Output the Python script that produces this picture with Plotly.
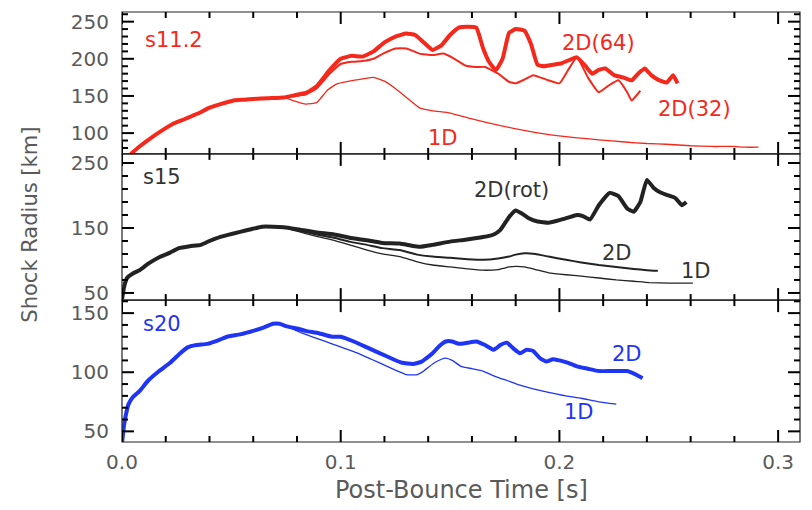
import plotly.graph_objects as go

# ---------------- data ----------------
# s11.2 (top panel)
s11_common_t = [0.004, 0.008, 0.013, 0.018, 0.023, 0.028, 0.032, 0.036, 0.039, 0.045, 0.051, 0.056, 0.060, 0.067, 0.074]
s11_common_r = [72, 82, 93, 103, 112, 118, 123, 128, 133, 139, 144, 145, 146, 147, 148]

s11_1d_t = [0.079, 0.084, 0.089, 0.094, 0.098, 0.104, 0.110, 0.115, 0.120, 0.125, 0.130, 0.136, 0.142, 0.150, 0.160,
            0.173, 0.185, 0.195, 0.207, 0.218, 0.230, 0.240, 0.249, 0.260, 0.270, 0.279, 0.285, 0.291]
s11_1d_r = [143, 139, 141, 158, 166, 170, 173, 175, 170, 160, 148, 134, 130, 127, 119,
            110, 103, 98, 94, 91, 88, 86, 85, 83, 82, 82, 81, 81]

s11_2d32_t = [0.079, 0.084, 0.089, 0.095, 0.100, 0.105, 0.110, 0.115, 0.120, 0.125, 0.130, 0.136, 0.142, 0.147, 0.152,
              0.157, 0.162, 0.166, 0.172, 0.177, 0.180, 0.184, 0.188, 0.194, 0.200, 0.204, 0.208, 0.213, 0.218, 0.222,
              0.227, 0.231, 0.233, 0.237]
s11_2d32_r = [150, 152, 160, 180, 193, 196, 197, 200, 208, 214, 214, 207, 205, 207, 200,
              191, 189, 189, 180, 169, 167, 172, 178, 172, 167, 185, 202, 175, 155, 163,
              171, 155, 144, 157]

s11_2d64_t = [0.079, 0.084, 0.089, 0.095, 0.100, 0.105, 0.110, 0.115, 0.120, 0.125, 0.130, 0.134, 0.138, 0.142, 0.146,
              0.150, 0.154, 0.158, 0.162, 0.165, 0.168, 0.171, 0.174, 0.177, 0.180, 0.184, 0.187, 0.190, 0.193, 0.197,
              0.201, 0.205, 0.208, 0.212, 0.215, 0.218, 0.221, 0.225, 0.229, 0.233, 0.236, 0.239, 0.242, 0.245, 0.249,
              0.252, 0.254]
s11_2d64_r = [151, 154, 163, 185, 200, 204, 203, 210, 222, 230, 234, 232, 222, 212, 218,
              232, 242, 243, 242, 215, 195, 185, 200, 235, 240, 238, 220, 192, 190, 192,
              194, 199, 202, 190, 180, 185, 187, 178, 175, 171, 180, 187, 178, 172, 168,
              178, 167]

# s15 (middle panel)
s15_common_t = [0.0, 0.001, 0.0023, 0.005, 0.008, 0.012, 0.017, 0.022, 0.026, 0.031, 0.036, 0.040, 0.043, 0.048,
                0.054, 0.059, 0.064, 0.069, 0.074]
s15_common_r = [40, 60, 73, 80, 85, 95, 105, 112, 119, 122, 124, 130, 134, 139, 144, 148, 152, 152, 151]

s15_rot_t = [0.080, 0.089, 0.097, 0.104, 0.112, 0.119, 0.127, 0.132, 0.136, 0.142, 0.150, 0.157, 0.165, 0.170, 0.173,
             0.177, 0.180, 0.183, 0.186, 0.190, 0.195, 0.200, 0.204, 0.208, 0.211, 0.214, 0.218, 0.223, 0.227, 0.231,
             0.234, 0.237, 0.240, 0.243, 0.246, 0.249, 0.253, 0.256, 0.258]
s15_rot_r = [148, 143, 140, 135, 131, 127, 126, 123, 121, 124, 129, 132, 136, 140, 147,
             167, 177, 172, 165, 160, 158, 162, 166, 170, 168, 163, 185, 204, 199, 180,
             175, 190, 224, 212, 205, 201, 196, 185, 190]

s15_2d_t = [0.080, 0.089, 0.097, 0.104, 0.112, 0.119, 0.127, 0.135, 0.142, 0.150, 0.158, 0.165, 0.172, 0.177, 0.180,
            0.184, 0.189, 0.195, 0.203, 0.210, 0.218, 0.226, 0.234, 0.240, 0.245]
s15_2d_r = [147, 140, 135, 129, 124, 119, 116, 109, 106, 104, 102, 101, 103, 106, 109,
            111, 110, 106, 101, 97, 93, 90, 87, 85, 84]

s15_1d_t = [0.080, 0.089, 0.097, 0.104, 0.112, 0.119, 0.127, 0.135, 0.142, 0.150, 0.158, 0.165, 0.172, 0.177, 0.180,
            0.184, 0.189, 0.195, 0.203, 0.210, 0.218, 0.226, 0.234, 0.241, 0.250, 0.261]
s15_1d_r = [145, 137, 131, 124, 116, 110, 106, 98, 93, 90, 87, 85, 86, 90, 91,
            90, 86, 81, 78, 76, 73, 70, 68, 66, 65, 65]

# s20 (bottom panel)
s20_common_t = [0.0, 0.001, 0.002, 0.003, 0.005, 0.008, 0.012, 0.017, 0.022, 0.026, 0.030, 0.034, 0.039, 0.044,
                0.048, 0.054, 0.060, 0.065, 0.069, 0.072, 0.075]
s20_common_r = [40, 56, 66, 73, 79, 84, 93, 101, 108, 115, 121, 123, 124, 127, 130, 132, 135, 138, 141, 141, 139]

s20_2d_t = [0.080, 0.084, 0.090, 0.096, 0.100, 0.106, 0.112, 0.118, 0.124, 0.128, 0.133, 0.137, 0.142, 0.145, 0.148,
            0.151, 0.154, 0.158, 0.162, 0.166, 0.170, 0.173, 0.176, 0.179, 0.182, 0.185, 0.188, 0.191, 0.194, 0.197,
            0.200, 0.204, 0.208, 0.213, 0.218, 0.224, 0.231, 0.235, 0.238]
s20_2d_r = [137, 135, 133, 130, 130, 126, 121, 116, 111, 108, 107, 109, 116, 122, 126,
            126, 124, 125, 126, 123, 119, 123, 125, 120, 116, 119, 118, 112, 109, 111,
            110, 108, 105, 103, 101, 101, 101, 98, 95]

s20_1d_t = [0.080, 0.084, 0.090, 0.096, 0.102, 0.108, 0.114, 0.120, 0.126, 0.130, 0.135, 0.138, 0.142, 0.146, 0.148,
            0.151, 0.155, 0.160, 0.165, 0.170, 0.176, 0.182, 0.188, 0.195, 0.203, 0.210, 0.218, 0.226]
s20_1d_r = [135, 132, 128, 124, 120, 116, 111, 106, 101, 98, 98, 101, 107, 111, 112,
            110, 105, 103, 101, 97, 93, 89, 86, 83, 80, 78, 75, 73]

# labels: (text, t, r, panel)
labels = [
    ("s11.2", 0.0237, 225, 1), ("2D(64)", 0.218, 221, 1), ("2D(32)", 0.2616, 133, 1), ("1D", 0.1466, 93, 1),
    ("s15", 0.0183, 228, 2), ("2D(rot)", 0.178, 208, 2), ("2D", 0.2265, 112, 2), ("1D", 0.2626, 84, 2),
    ("s20", 0.0183, 141, 3), ("2D", 0.231, 115, 3), ("1D", 0.209, 66, 3),
]

# tick values
x_major = [0.0, 0.1, 0.2, 0.3]
x_minor = [0.02, 0.04, 0.06, 0.08, 0.12, 0.14, 0.16, 0.18, 0.22, 0.24, 0.26, 0.28]
y_major = {1: [100, 150, 200, 250], 2: [50, 150, 250], 3: [50, 100, 150]}
y_minor = {1: [80, 90, 110, 120, 130, 140, 160, 170, 180, 190, 210, 220, 230, 240, 260],
           2: [70, 90, 110, 130, 170, 190, 210, 230],
           3: [60, 70, 80, 90, 110, 120, 130, 140, 160]}
y_range = {1: [72, 263], 2: [39, 264], 3: [41, 161]}

RED = "#f5281c"
BLACK = "#222222"
BLUE = "#1f35f5"
GRAY = "#5a5a5a"
TICK = "black"
FONT = "DejaVu Sans"

fig = go.Figure()
XR = {1: "x", 2: "x2", 3: "x3"}
YR = {1: "y", 2: "y2", 3: "y3"}

def add(t, r, color, width, panel):
    fig.add_trace(go.Scatter(x=t, y=r, mode="lines", line=dict(color=color, width=width, shape="spline", smoothing=0.4),
                             xaxis=XR[panel], yaxis=YR[panel], showlegend=False, hoverinfo="skip"))

# top
add(s11_common_t + s11_1d_t, s11_common_r + s11_1d_r, RED, 1.3, 1)
add(s11_common_t + s11_2d32_t, s11_common_r + s11_2d32_r, RED, 2.0, 1)
add(s11_common_t + s11_2d64_t, s11_common_r + s11_2d64_r, RED, 4.0, 1)
# middle
add(s15_common_t + s15_1d_t, s15_common_r + s15_1d_r, BLACK, 1.3, 2)
add(s15_common_t + s15_2d_t, s15_common_r + s15_2d_r, BLACK, 2.0, 2)
add(s15_common_t + s15_rot_t, s15_common_r + s15_rot_r, BLACK, 4.0, 2)
# bottom
add(s20_common_t + s20_1d_t, s20_common_r + s20_1d_r, BLUE, 1.3, 3)
add(s20_common_t + s20_2d_t, s20_common_r + s20_2d_r, BLUE, 4.0, 3)

colors = {1: RED, 2: "#333333", 3: BLUE}
for text, t, r, p in labels:
    fig.add_annotation(x=t, y=r, xref=XR[p], yref=YR[p],
                       text=text, showarrow=False, font=dict(family=FONT, size=21, color=colors[p]))

d1 = [0.0, 0.330]
d2 = [0.330, 0.670]
d3 = [0.670, 1.0]
domains = {1: d3, 2: d2, 3: d1}
PLOT_W = 678
PLOT_H = 430

# panel frames and inward tick marks (all four sides), built from the tick value lists
shapes = []
for p in (1, 2, 3):
    xd, yd = XR[p] + " domain", YR[p] + " domain"
    shapes.append(dict(type="rect", xref=xd, yref=yd, x0=0, x1=1, y0=0, y1=1,
                       line=dict(color="#222222", width=1.2), layer="above"))
    ph = (domains[p][1] - domains[p][0]) * PLOT_H
    for vals, ln in ((x_major, 12), (x_minor, 6)):
        f = ln / ph
        for v in vals:
            shapes.append(dict(type="line", xref=XR[p], yref=yd, x0=v, x1=v, y0=0, y1=f,
                               line=dict(color=TICK, width=2), layer="above"))
            shapes.append(dict(type="line", xref=XR[p], yref=yd, x0=v, x1=v, y0=1, y1=1 - f,
                               line=dict(color=TICK, width=2), layer="above"))
    for vals, ln in ((y_major[p], 12), (y_minor[p], 6)):
        f = ln / PLOT_W
        for v in vals:
            shapes.append(dict(type="line", xref=xd, yref=YR[p], x0=0, x1=f, y0=v, y1=v,
                               line=dict(color=TICK, width=2), layer="above"))
            shapes.append(dict(type="line", xref=xd, yref=YR[p], x0=1, x1=1 - f, y0=v, y1=v,
                               line=dict(color=TICK, width=2), layer="above"))

xcommon = dict(range=[0, 0.31], showline=False, automargin=False, ticks="", tickmode="array", tickvals=x_major,
               showgrid=False, zeroline=False, tickfont=dict(family=FONT, size=20, color=GRAY))
ycommon = dict(showline=False, ticks="", automargin=False, showgrid=False, zeroline=False, tickmode="array",
               ticklabelstandoff=12, tickfont=dict(family=FONT, size=20, color=GRAY))

# page body has an 8px margin: shrink figure so the plot area lands where the reference has it
fig.update_layout(
    template="none",
    width=804, height=502,
    margin=dict(l=114, r=12, t=4, b=68),
    paper_bgcolor="white", plot_bgcolor="white",
    shapes=shapes,
    xaxis=dict(domain=[0, 1], anchor="y", showticklabels=False, **xcommon),
    xaxis2=dict(domain=[0, 1], anchor="y2", showticklabels=False, **xcommon),
    xaxis3=dict(domain=[0, 1], anchor="y3", tickformat=".1f", ticklabelstandoff=6, **xcommon),
    yaxis=dict(domain=d3, anchor="x", range=y_range[1], tickvals=y_major[1], **ycommon),
    yaxis2=dict(domain=d2, anchor="x2", range=y_range[2], tickvals=y_major[2], **ycommon),
    yaxis3=dict(domain=d1, anchor="x3", range=y_range[3], tickvals=y_major[3], **ycommon),
)

fig.add_annotation(text="Shock Radius [km]", xref="paper", yref="paper", x=-0.136, y=0.505, textangle=-90,
                   xanchor="center", yanchor="middle",
                   showarrow=False, font=dict(family=FONT, size=21, color=GRAY))
fig.add_annotation(text="Post-Bounce Time [s]", xref="paper", yref="paper", x=0.5, y=-0.112,
                   xanchor="center", yanchor="middle",
                   showarrow=False, font=dict(family=FONT, size=24, color=GRAY))

fig.write_html("out.html")
